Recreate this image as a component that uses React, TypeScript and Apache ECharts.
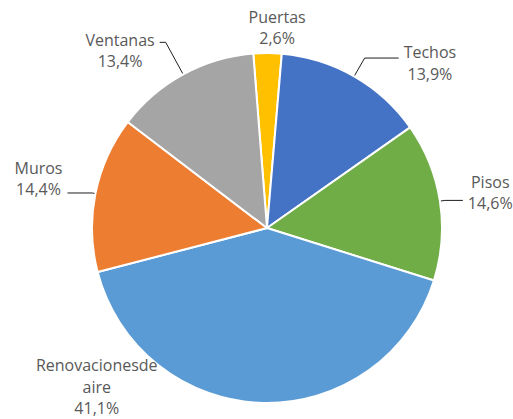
import React, { useEffect, useRef } from "react";
import * as echarts from "echarts";

const categories = ["Puertas", "Techos", "Pisos", "Renovacionesde\naire", "Muros", "Ventanas"];
const shares = [2.6, 13.9, 14.6, 41.1, 14.4, 13.4];
const colors = ["#FFC000", "#4472C4", "#70AD47", "#5B9BD5", "#ED7D31", "#A5A5A5"];

// label guide-line lengths and text offsets per slice (styling only)
const labelPlacement = [
  { length: 25.5, length2: 4.5, padding: [0, 0, 0, 0], line: false },
  { length: 21, length2: 34, padding: [10, 0, 0, 0], line: true },
  { length: 5, length2: 18, padding: [0, 0, 16, 0], line: true },
  { length: 0, length2: 100, padding: [0, 0, 32, 0], line: false },
  { length: 3, length2: 25, padding: [0, 0, 29, 0], line: true },
  { length: 36.5, length2: 6, padding: [16, 0, 0, 0], line: true },
];

const fmtPct = (v: number) => v.toFixed(1).replace(".", ",") + "%";

export default function App() {
  const ref = useRef<HTMLDivElement>(null);
  useEffect(() => {
    if (!ref.current) return;
    const chart = echarts.init(ref.current, undefined, { renderer: "svg" });
    const data = categories.map((name, i) => ({
      name,
      value: shares[i],
      itemStyle: { color: colors[i] },
      label: { padding: labelPlacement[i].padding },
      labelLine: {
        show: labelPlacement[i].line,
        length: labelPlacement[i].length,
        length2: labelPlacement[i].length2,
      },
    }));
    chart.setOption({
      animation: false,
      backgroundColor: "#ffffff",
      series: [
        {
          type: "pie",
          center: [267, 228],
          radius: 175,
          startAngle: 94.5,
          clockwise: true,
          avoidLabelOverlap: false,
          data,
          itemStyle: { borderColor: "#ffffff", borderWidth: 2 },
          label: {
            show: true,
            position: "outside",
            fontFamily: "Open Sans",
            fontSize: 16,
            color: "#595959",
            distanceToLabelLine: 5,
            formatter: (p: any) =>
              [...String(p.name).split("\n"), fmtPct(p.value)].map((s) => `{c|${s}}`).join("\n"),
            rich: {
              c: {
                align: "center",
                fontFamily: "Open Sans",
                fontSize: 16,
                color: "#595959",
                lineHeight: 21.5,
              },
            },
          },
          labelLine: {
            lineStyle: { color: "#1f1f1f", width: 1 },
          },
          labelLayout: (params: any) => {
            if (params.dataIndex === 0) return { align: "center" };
            return {};
          },
          emphasis: { disabled: true },
        },
      ],
    });
    return () => chart.dispose();
  }, []);
  return (
    <div
      ref={ref}
      style={{ position: "fixed", left: 0, top: 0, width: 513, height: 419, background: "#fff" }}
    />
  );
}
